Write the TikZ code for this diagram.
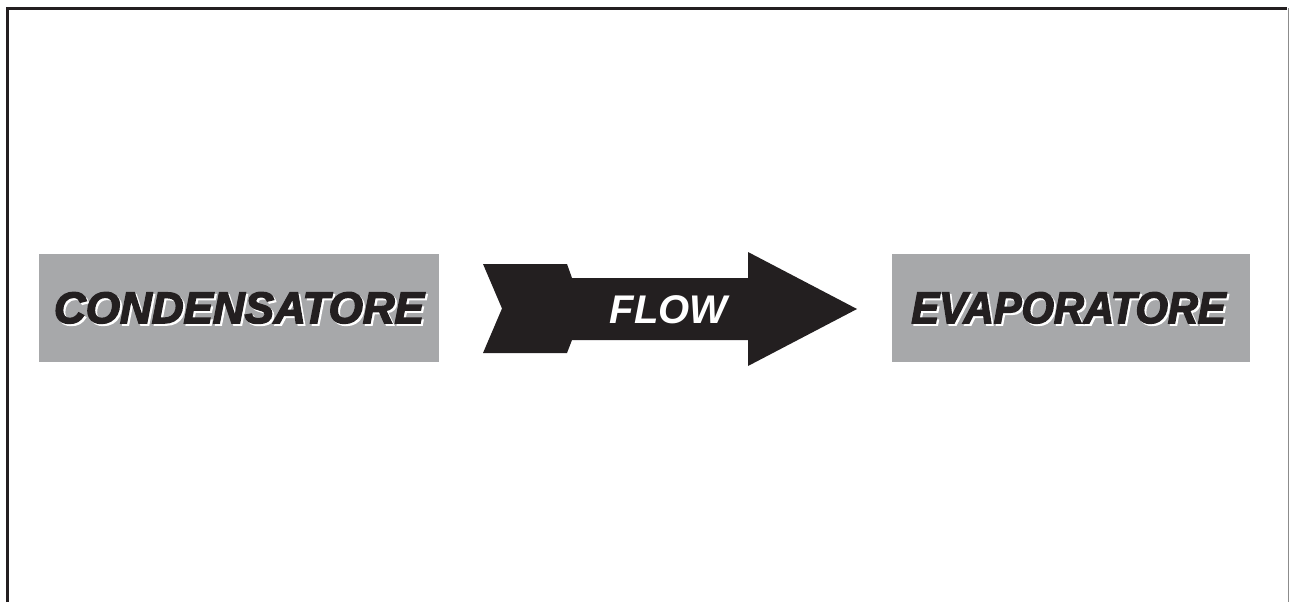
\documentclass[tikz,border=0pt]{standalone}
\usepackage{fontspec}
\newfontfamily\heavyfont{Liberation Sans}[BoldItalicFeatures={FakeBold=3.5}]
\newfontfamily\flowfont{Liberation Sans}
\definecolor{boxgray}{HTML}{A7A8AA}
\definecolor{ink}{HTML}{231F20}
\tikzset{
  graybox/.style={fill=boxgray, draw=none, inner sep=0pt},
  bigword/.style={anchor=base, inner sep=0pt, font=\heavyfont\bfseries\itshape\fontsize{44}{50}\selectfont},
  narrowword/.style={bigword, xscale=0.945, transform shape},
  flowword/.style={anchor=base, inner sep=0pt, text=white, font=\flowfont\bfseries\itshape\fontsize{40}{48}\selectfont}
}
\begin{document}
\begin{tikzpicture}[x=1pt,y=-1pt]
\useasboundingbox (0,0) rectangle (1289,602);
\fill[white] (0,0) rectangle (1289,602);
% frame
\draw[ink, line width=3pt] (7.5,602) -- (7.5,8.5) -- (1287,8.5);
\draw[black!45, line width=1pt] (1288.5,8.5) -- (1288.5,602);
% boxes
\node[graybox, minimum width=400pt, minimum height=108pt] (cond) at (239,308) {};
\node[graybox, minimum width=358pt, minimum height=108pt] (evap) at (1071,308) {};
% arrow
\fill[ink] (483,264) -- (567,264) -- (572,278) -- (748,278) -- (748,252) -- (857,309)
  -- (748,366) -- (748,340) -- (572,340) -- (567,353) -- (483,353) -- (502,308.5) -- cycle;
\coordinate (flowc) at (668.5,323);
% texts
\node[bigword, text=white] (condsh) at (241,325) {CONDENSATORE};
\node[bigword, text=ink] (condt) at (239,323) {CONDENSATORE};
\node[narrowword, text=white] (evapsh) at (1070.5,325) {EVAPORATORE};
\node[narrowword, text=ink] (evapt) at (1068.5,323) {EVAPORATORE};
\node[flowword] (flowt) at (flowc) {FLOW};
\end{tikzpicture}
\end{document}
